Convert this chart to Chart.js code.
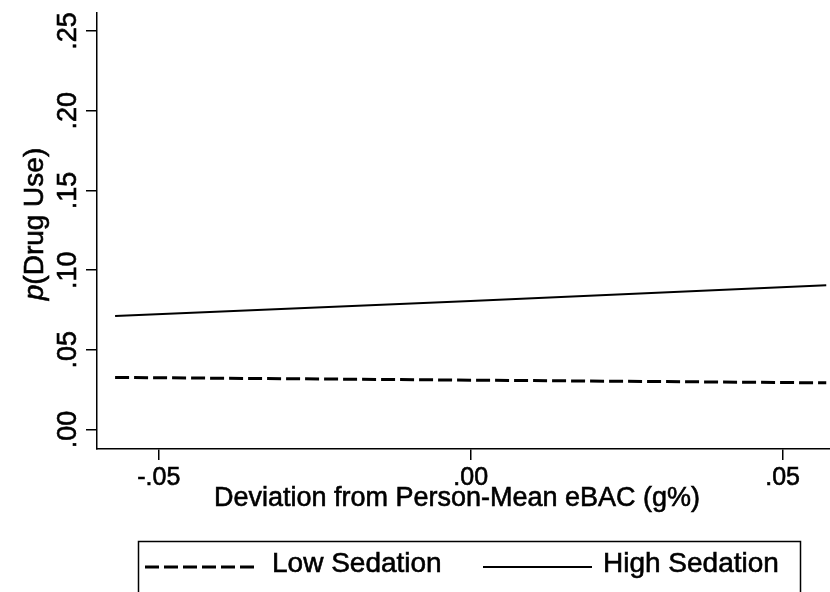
<!DOCTYPE html>
<html>
<head>
<meta charset="utf-8">
<script src="https://cdn.jsdelivr.net/npm/chart.js@4.4.1/dist/chart.umd.min.js"></script>
<style>
  html, body { margin: 0; padding: 0; background: #fff; }
  #wrap { width: 830px; height: 592px; }
</style>
</head>
<body>
<div id="wrap"><canvas id="sedationChart" width="830" height="592"></canvas></div>
<script>
// 데이터
const deviation = [-0.057, 0, 0.057];
const lowSedation = [0.0327, 0.0310, 0.0293];
const highSedation = [0.0712, 0.0806, 0.0905];
const seriesLabels = ['Low Sedation', 'High Sedation'];
const xTickValues = [-0.05, 0, 0.05];
const yTickValues = [0, 0.05, 0.10, 0.15, 0.20, 0.25];
const xTitle = 'Deviation from Person-Mean eBAC (g%)';

const FONT = '"Liberation Sans", Arial, Helvetica, sans-serif';

// ".05", "-.05" 형식으로 표시
function formatTick(v) {
    return v.toFixed(2).replace(/^(-?)0\./, '$1.');
}

function toPoints(ys) {
    return deviation.map((x, i) => ({ x: x, y: ys[i] }));
}

// 텍스트를 약간 굵게 (채우기 + 얇은 외곽선)
function drawText(ctx, text, x, y) {
    ctx.fillText(text, x, y);
    ctx.strokeText(text, x, y);
}

// 축 제목 (y축 제목의 p는 이탤릭)
const axisTitlePlugin = {
    id: 'axisTitles',
    afterDraw(chart) {
        const ctx = chart.ctx;
        ctx.save();
        ctx.fillStyle = '#000';
        ctx.strokeStyle = '#000';
        ctx.lineWidth = 0.6;
        ctx.textBaseline = 'middle';

        ctx.font = '27px ' + FONT;
        ctx.textAlign = 'center';
        drawText(ctx, xTitle, 457, 499);

        ctx.textAlign = 'left';
        ctx.translate(35, 224);
        ctx.rotate(-Math.PI / 2);
        const italic = 'italic 28px ' + FONT;
        const normal = '28px ' + FONT;
        ctx.font = italic;
        const w1 = ctx.measureText('p').width;
        ctx.font = normal;
        const w2 = ctx.measureText('(Drug Use)').width;
        const start = -(w1 + w2) / 2;
        ctx.font = italic;
        drawText(ctx, 'p', start, 0);
        ctx.font = normal;
        drawText(ctx, '(Drug Use)', start + w1, 0);
        ctx.restore();
    }
};

// 하단 범례 박스
const legendSlots = [
    { from: 145, to: 258, text: 272 },
    { from: 483, to: 592, text: 603 }
];

const legendBoxPlugin = {
    id: 'legendBox',
    afterDraw(chart) {
        const ctx = chart.ctx;
        ctx.save();
        ctx.strokeStyle = '#000';
        ctx.lineWidth = 1.5;
        ctx.strokeRect(138.5, 541.5, 662, 70);
        ctx.font = '28px ' + FONT;
        ctx.fillStyle = '#000';
        ctx.textBaseline = 'alphabetic';
        chart.data.datasets.forEach((ds, i) => {
            const slot = legendSlots[i];
            ctx.beginPath();
            ctx.setLineDash(ds.borderDash || []);
            ctx.lineWidth = ds.borderWidth;
            ctx.strokeStyle = ds.borderColor;
            ctx.moveTo(slot.from, 567);
            ctx.lineTo(slot.to, 567);
            ctx.stroke();
            ctx.setLineDash([]);
            ctx.lineWidth = 0.6;
            drawText(ctx, ds.label, slot.text, 572);
        });
        ctx.restore();
    }
};

const ctx = document.getElementById('sedationChart');
const chart = new Chart(ctx, {
    type: 'line',
    data: {
        datasets: [{
            label: seriesLabels[0],
            data: toPoints(lowSedation),
            borderColor: '#000',
            borderWidth: 3,
            borderDash: [14, 5],
            pointRadius: 0,
            tension: 0
        }, {
            label: seriesLabels[1],
            data: toPoints(highSedation),
            borderColor: '#000',
            borderWidth: 2,
            pointRadius: 0,
            tension: 0
        }]
    },
    options: {
        responsive: false,
        devicePixelRatio: 1,
        animation: false,
        layout: { padding: { top: 13, left: 0, right: 0, bottom: 0 } },
        plugins: {
            legend: { display: false },
            tooltip: { enabled: false }
        },
        scales: {
            x: {
                type: 'linear',
                min: -0.0599,
                max: 0.0576,
                afterBuildTicks: axis => { axis.ticks = xTickValues.map(v => ({ value: v })); },
                afterFit: axis => {
                    axis.height = 143;
                    axis.paddingLeft = 0;
                    axis.paddingRight = 0;
                },
                border: { display: true, color: '#000', width: 1.5 },
                grid: {
                    drawOnChartArea: false,
                    drawTicks: true,
                    tickLength: 11,
                    tickColor: '#000',
                    lineWidth: 1.5
                },
                ticks: {
                    color: '#000',
                    font: { family: FONT, size: 25 },
                    padding: 3,
                    maxRotation: 0,
                    textStrokeColor: '#000',
                    textStrokeWidth: 0.6,
                    callback: v => formatTick(v)
                },
                title: { display: false }
            },
            y: {
                type: 'linear',
                min: -0.0122,
                max: 0.2613,
                afterBuildTicks: axis => { axis.ticks = yTickValues.map(v => ({ value: v })); },
                afterFit: axis => {
                    axis.width = 97;
                    axis.paddingTop = 0;
                    axis.paddingBottom = 0;
                },
                border: { display: true, color: '#000', width: 1.5 },
                grid: {
                    drawOnChartArea: false,
                    drawTicks: true,
                    tickLength: 11,
                    tickColor: '#000',
                    lineWidth: 1.5
                },
                ticks: {
                    color: '#000',
                    font: { family: FONT, size: 27 },
                    padding: -1,
                    minRotation: 90,
                    maxRotation: 90,
                    crossAlign: 'center',
                    textStrokeColor: '#000',
                    textStrokeWidth: 0.6,
                    callback: v => formatTick(v)
                },
                title: { display: false }
            }
        }
    },
    plugins: [axisTitlePlugin, legendBoxPlugin]
});
</script>
</body>
</html>
